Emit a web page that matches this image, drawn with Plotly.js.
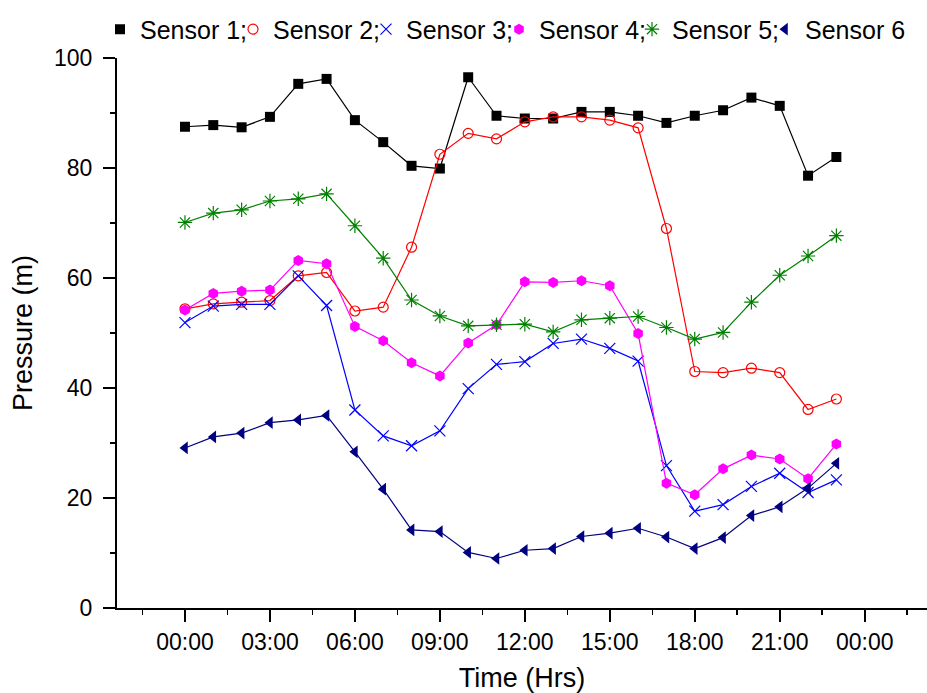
<!DOCTYPE html>
<html>
<head>
<meta charset="utf-8">
<script src="https://cdn.plot.ly/plotly-3.0.1.min.js"></script>
<style>
  html, body { margin: 0; padding: 0; background: #fff; }
  #myDiv { width: 927px; height: 693px; }
</style>
</head>
<body>
<div id="myDiv"></div>
<script>
// hours of the day
var hours = [0, 1, 2, 3, 4, 5, 6, 7, 8, 9, 10, 11, 12, 13, 14, 15, 16, 17, 18, 19, 20, 21, 22, 23];

var tickHours = [0, 3, 6, 9, 12, 15, 18, 21, 24];
var tickLabels = ['00:00', '03:00', '06:00', '09:00', '12:00', '15:00', '18:00', '21:00', '00:00'];

var sensor1 = [87.5, 87.8, 87.4, 89.3, 95.3, 96.2, 88.7, 84.7, 80.4, 79.9, 96.5, 89.5,
               89.0, 89.0, 90.2, 90.2, 89.5, 88.2, 89.5, 90.5, 92.8, 91.3, 78.6, 82.0];
var sensor2 = [54.4, 55.3, 55.6, 55.9, 60.4, 61.0, 54.0, 54.7, 65.6, 82.5, 86.3, 85.3,
               88.4, 89.3, 89.3, 88.7, 87.3, 69.0, 43.0, 42.8, 43.6, 42.8, 36.1, 38.0];
var sensor3 = [51.9, 54.9, 55.2, 55.2, 60.4, 55.0, 36.0, 31.3, 29.5, 32.2, 39.9, 44.3,
               44.8, 48.1, 48.9, 47.2, 44.9, 25.9, 17.6, 18.8, 22.1, 24.5, 21.0, 23.3];
var sensor4 = [54.2, 57.2, 57.6, 57.8, 63.2, 62.6, 51.2, 48.6, 44.6, 42.2, 48.2, 51.5,
               59.3, 59.2, 59.5, 58.6, 49.9, 22.7, 20.6, 25.3, 27.8, 27.1, 23.5, 29.8];
var sensor5 = [70.1, 71.8, 72.4, 74.0, 74.4, 75.3, 69.5, 63.6, 56.0, 53.1, 51.3, 51.5,
               51.6, 50.2, 52.4, 52.7, 53.0, 51.0, 48.9, 50.1, 55.6, 60.5, 64.0, 67.7];
var sensor6 = [29.1, 31.1, 31.8, 33.7, 34.2, 35.0, 28.4, 21.6, 14.2, 13.9, 10.1, 9.0,
               10.5, 10.8, 13.0, 13.6, 14.5, 12.9, 10.8, 12.8, 16.8, 18.4, 21.8, 26.3];

var names = ['Sensor 1;', 'Sensor 2;', 'Sensor 3;', 'Sensor 4;', 'Sensor 5;', 'Sensor 6'];
var series = [sensor1, sensor2, sensor3, sensor4, sensor5, sensor6];
var colors = ['#000000', '#ff0000', '#0000ff', '#ff00ff', '#008000', '#000080'];
var symbols = ['square', 'circle-open', 'x-thin-open', 'hexagon', 'asterisk-open', 'triangle-left'];
var sizes = [10, 10, 11, 11, 12, 11];

var font = 'Arial, "Liberation Sans", sans-serif';

function markerFor(i) {
  var m = {symbol: symbols[i], color: colors[i], size: sizes[i]};
  if (symbols[i].indexOf('open') >= 0) m.line = {color: colors[i], width: 1.2};
  else m.line = {width: 0};
  return m;
}

function legendId(i) { return i === 0 ? 'legend' : 'legend' + (i + 1); }

var data = [];
for (var i = 0; i < series.length; i++) {
  data.push({
    x: hours,
    y: series[i],
    mode: 'lines+markers',
    line: {color: colors[i], width: 1.2},
    marker: markerFor(i),
    showlegend: false,
    hoverinfo: 'skip'
  });
}
// marker-only legend entries, one small legend each so they sit in a tight row
for (var i = 0; i < series.length; i++) {
  data.push({
    x: [null],
    y: [null],
    name: names[i],
    mode: 'markers',
    marker: markerFor(i),
    legend: legendId(i)
  });
}

var layout = {
  width: 927,
  height: 693,
  margin: {l: 117, r: 0, t: 58, b: 85},
  paper_bgcolor: '#fff',
  plot_bgcolor: '#fff',
  font: {family: font, color: '#000', size: 23},
  showlegend: true,
  xaxis: {
    range: [-2.4, 26.2],
    tickvals: tickHours,
    ticktext: tickLabels,
    showgrid: false,
    zeroline: false,
    showline: true,
    linecolor: '#000',
    linewidth: 2,
    ticks: 'outside',
    ticklen: 12,
    tickwidth: 2,
    tickcolor: '#000',
    minor: {dtick: 1.5, tick0: 1.5, ticks: 'outside', ticklen: 5, tickwidth: 1.5, tickcolor: '#000'},
    tickfont: {size: 23},
    title: {text: 'Time (Hrs)', font: {size: 27}, standoff: 16}
  },
  yaxis: {
    range: [0, 100],
    dtick: 20,
    showgrid: false,
    zeroline: false,
    showline: true,
    linecolor: '#000',
    linewidth: 2,
    ticks: 'outside',
    ticklen: 12,
    tickwidth: 2,
    tickcolor: '#000',
    ticklabelstandoff: 6,
    minor: {dtick: 10, ticks: 'outside', ticklen: 5, tickwidth: 1.5, tickcolor: '#000'},
    tickfont: {size: 23},
    title: {text: 'Pressure (m)', font: {size: 27}, standoff: 14}
  }
};

for (var i = 0; i < series.length; i++) {
  layout[legendId(i)] = {
    orientation: 'h',
    x: (100 + 133 * i - 117) / 810,
    xanchor: 'left',
    y: 1.052, yanchor: 'middle',
    font: {family: font, size: 25, color: '#000'},
    itemwidth: 30,
    bgcolor: 'rgba(0,0,0,0)'
  };
}

Plotly.newPlot('myDiv', data, layout, {displayModeBar: false, staticPlot: true});
</script>
</body>
</html>
